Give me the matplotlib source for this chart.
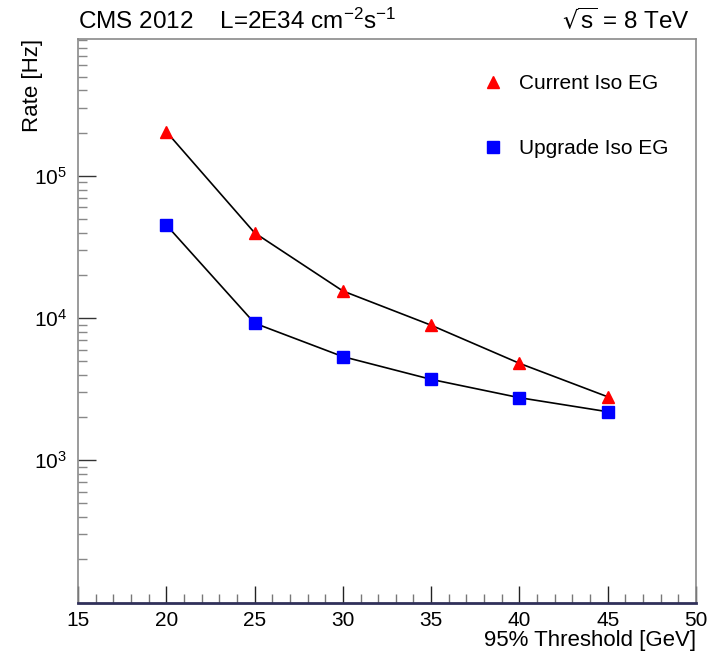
import matplotlib
matplotlib.use("Agg")
import matplotlib.pyplot as plt
from matplotlib.ticker import LogLocator, MultipleLocator, NullFormatter

plt.rcParams['font.family'] = ['Liberation Sans', 'DejaVu Sans']
plt.rcParams['mathtext.default'] = 'regular'

# thresholds [GeV]
threshold = [20, 25, 30, 35, 40, 45]
# rates [Hz]
rate_current = [2.05e5, 3.98e4, 1.55e4, 8.9e3, 4.8e3, 2.79e3]
rate_upgrade = [4.52e4, 9.2e3, 5.35e3, 3.7e3, 2.75e3, 2.19e3]

fig = plt.figure(figsize=(7.16, 6.51), dpi=100)
ax = fig.add_axes([0.109, 0.0737, 0.863, 0.8663])

ax.plot(threshold, rate_current, color='black', lw=1.2, zorder=2)
ax.plot(threshold, rate_upgrade, color='black', lw=1.2, zorder=2)
ax.plot(threshold, rate_current, '^', color='red', ms=9, mec='red',
        ls='none', label='Current Iso EG', zorder=3)
ax.plot(threshold, rate_upgrade, 's', color='blue', ms=8.4, mec='blue',
        ls='none', label='Upgrade Iso EG', zorder=3)

ax.set_yscale('log')
ax.set_xlim(15, 50)
ax.set_ylim(98.6, 9.2e5)

ax.xaxis.set_major_locator(MultipleLocator(5))
ax.xaxis.set_minor_locator(MultipleLocator(1))
ax.set_yticks([1e3, 1e4, 1e5])
ax.yaxis.set_minor_locator(LogLocator(base=10, subs=range(2, 10)))
ax.yaxis.set_minor_formatter(NullFormatter())

ax.tick_params(which='both', direction='in', top=False, right=False,
               labelsize=15)
ax.tick_params(axis='y', which='major', length=13, width=1, color='#333333', pad=8)
ax.tick_params(axis='y', which='minor', length=6.5, width=1, color='#888888')
ax.tick_params(axis='x', which='major', length=12, width=1, color='#222222', pad=6)
ax.tick_params(axis='x', which='minor', length=6.5, width=1, color='#777777')

for s in ['left', 'top', 'right']:
    ax.spines[s].set_color('#8a8a8a')
    ax.spines[s].set_linewidth(1.2)
ax.spines['bottom'].set_color('#30305a')
ax.spines['bottom'].set_linewidth(2)

ax.set_xlabel('95% Threshold [GeV]', fontsize=16, loc='right', labelpad=0)
ax.set_ylabel('Rate [Hz]', fontsize=16, loc='top')
ax.yaxis.set_label_coords(-0.057, 1.0)

fig.text(0.109, 0.955, r'CMS 2012    L=2E34 cm$^{-2}$s$^{-1}$',
         fontsize=17.5, ha='left', va='baseline')
fig.text(0.964, 0.955, r'$\sqrt{s}$ = 8 TeV', fontsize=17.5,
         ha='right', va='baseline')

ax.legend(loc='upper left', bbox_to_anchor=(0.648, 0.915),
          bbox_transform=fig.transFigure, frameon=False, fontsize=15,
          handlelength=1.0, handletextpad=0.75, labelspacing=2.2,
          numpoints=1)

fig.savefig('out.png', dpi=100)
